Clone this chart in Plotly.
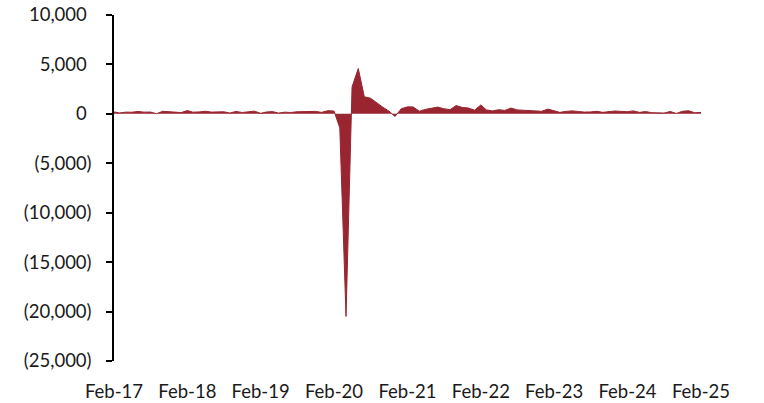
import pandas as pd
import plotly.graph_objects as go

start_month = "2017-02-01"
n_months = 97

vals_2017 = [195, 95, 173, 165, 245, 174, 182, 12, 258, 206, 168]
vals_2018 = [131, 330, 169, 200, 263, 176, 205, 211, 87, 245, 139, 179]
vals_2019 = [274, 52, 186, 226, 78, 171, 139, 211, 207, 187, 251, 152]
vals_2020 = [315, 289, -1421, -20493, 2725, 4584, 1731, 1583, 1076, 673, 276, -268]
vals_2021 = [520, 710, 704, 269, 452, 557, 681, 517, 424, 839, 647, 588]
vals_2022 = [370, 904, 400, 300, 420, 350, 590, 400, 350, 330, 300, 260]
vals_2023 = [480, 290, 150, 250, 300, 240, 180, 200, 260, 150, 200, 290]
vals_2024 = [250, 220, 300, 150, 230, 120, 100, 80, 240, 40, 260, 320]
vals_2025 = [110, 150]

values = (vals_2017 + vals_2018 + vals_2019 + vals_2020 + vals_2021 +
          vals_2022 + vals_2023 + vals_2024 + vals_2025)
dates = pd.date_range(start_month, periods=n_months, freq="MS")

x_tick_vals = ["2017-02-01", "2018-02-01", "2019-02-01", "2020-02-01", "2021-02-01",
               "2022-02-01", "2023-02-01", "2024-02-01", "2025-02-01"]
x_tick_text = ["Feb-17", "Feb-18", "Feb-19", "Feb-20", "Feb-21",
               "Feb-22", "Feb-23", "Feb-24", "Feb-25"]
y_tick_vals = [10000, 5000, 0, -5000, -10000, -15000, -20000, -25000]
y_tick_text = ["10,000\u00a0", "5,000\u00a0", "0\u00a0", "(5,000)", "(10,000)",
               "(15,000)", "(20,000)", "(25,000)"]

y_min, y_max = -25000, 10000
x_range = ["2017-02-01", "2025-02-01"]
color = "#982530"
font = dict(family="Lato", size=18.5, color="#1a1a1a")

fig = go.Figure()
fig.add_trace(go.Scatter(
    x=dates, y=values, mode="lines", fill="tozeroy",
    line=dict(color=color, width=1), fillcolor=color,
    hoverinfo="x+y", showlegend=False,
))

fig.update_layout(
    width=764, height=403, autosize=False,
    margin=dict(l=114, r=63, t=15, b=42, pad=0),
    paper_bgcolor="white", plot_bgcolor="white",
    font=font,
    xaxis=dict(
        type="date", range=x_range, automargin=False,
        tickvals=x_tick_vals, ticktext=x_tick_text,
        showline=False, showgrid=False, zeroline=False,
        ticks="outside", ticklen=14, tickcolor="rgba(0,0,0,0)",
        tickfont=font, ticklabeloverflow="allow",
    ),
    xaxis2=dict(
        type="date", range=x_range, overlaying="x", anchor="free",
        automargin=False,
        position=(0 - y_min) / (y_max - y_min),
        tickvals=x_tick_vals, showticklabels=False,
        showline=True, linecolor="black", linewidth=2,
        ticks="outside", ticklen=6, tickwidth=2, tickcolor="black",
        showgrid=False, zeroline=False,
    ),
    yaxis=dict(
        range=[y_min, y_max], automargin=False,
        tickvals=y_tick_vals, ticktext=y_tick_text,
        showline=True, linecolor="black", linewidth=1.5,
        ticks="outside", ticklen=6, tickwidth=1.5, tickcolor="black",
        ticklabelstandoff=11, ticklabeloverflow="allow",
        showgrid=False, zeroline=False, tickfont=font,
    ),
)

fig.write_html("out.html", config={"displayModeBar": False},
               post_script="document.body.style.margin='0';")
